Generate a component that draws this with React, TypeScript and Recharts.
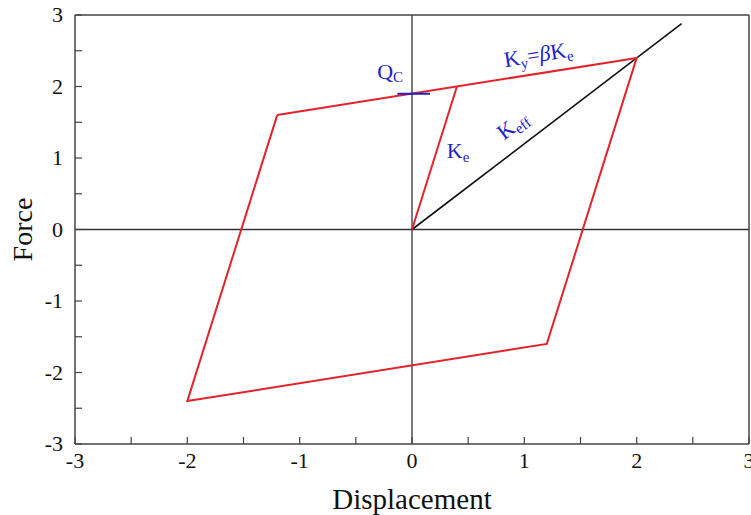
import React from 'react';
import { LineChart, Line, XAxis, YAxis, ReferenceLine, ReferenceDot } from 'recharts';

// Hysteresis loop (bilinear model)
const loopPoints = [
  { x: -1.2, y: 1.6 },
  { x: 2.0, y: 2.4 },
  { x: 1.2, y: -1.6 },
  { x: -2.0, y: -2.4 },
  { x: -1.2, y: 1.6 },
];
// Initial elastic loading branch (Ke)
const elasticPoints = [
  { x: 0, y: 0 },
  { x: 0.4, y: 2.0 },
];
// Effective stiffness line (Keff)
const effPoints = [
  { x: 0, y: 0 },
  { x: 2.4, y: 2.88 },
];
// Characteristic strength marker Qc
const qcSegment = [
  { x: -0.13, y: 1.9 },
  { x: 0.16, y: 1.9 },
];

const xTicks = [-3, -2.5, -2, -1.5, -1, -0.5, 0, 0.5, 1, 1.5, 2, 2.5, 3];
const yTicks = [-3, -2.5, -2, -1.5, -1, -0.5, 0, 0.5, 1, 1.5, 2, 2.5, 3];

const FONT = '"Liberation Serif", "Times New Roman", serif';
const FRAME = '#444';
const RED = '#e3232b';
const BLUE = '#2222c4';
const TL = 7;

const isInt = (v: number) => Math.abs(v - Math.round(v)) < 1e-9;

const BottomTick = (p: any) => {
  const { x, y, payload } = p;
  return (
    <g>
      <line x1={x} y1={y} x2={x} y2={y - TL} stroke={FRAME} strokeWidth={1.2} />
      {isInt(payload.value) && (
        <text x={x} y={y + 24} textAnchor="middle" fontFamily={FONT} fontSize={22} fill="#111">
          {payload.value}
        </text>
      )}
    </g>
  );
};
const TopTick = (p: any) => {
  const { x, y } = p;
  return <line x1={x} y1={y} x2={x} y2={y + TL} stroke={FRAME} strokeWidth={1.2} />;
};
const LeftTick = (p: any) => {
  const { x, y, payload } = p;
  return (
    <g>
      <line x1={x} y1={y} x2={x + TL} y2={y} stroke={FRAME} strokeWidth={1.2} />
      {isInt(payload.value) && (
        <text x={x - 12} y={y + 7} textAnchor="end" fontFamily={FONT} fontSize={22} fill="#111">
          {payload.value}
        </text>
      )}
    </g>
  );
};
const RightTick = (p: any) => {
  const { x, y } = p;
  return <line x1={x} y1={y} x2={x - TL} y2={y} stroke={FRAME} strokeWidth={1.2} />;
};

const lbl = (render: (cx: number, cy: number) => React.ReactNode) => (props: any) => {
  const vb = props.viewBox || {};
  return <g>{render(vb.x ?? 0, vb.y ?? 0)}</g>;
};

const AF = 22;
const SF = 15;

export default function App() {
  return (
    <div style={{ position: 'absolute', left: 0, top: 0, width: 751, height: 515, background: '#fff' }}>
      <LineChart width={751} height={515} margin={{ top: 14, right: 1, left: 0, bottom: 0 }}>
        <XAxis
          dataKey="x"
          type="number"
          domain={[-3, 3]}
          ticks={xTicks}
          interval={0}
          allowDataOverflow
          height={71}
          stroke={FRAME}
          axisLine={{ stroke: FRAME, strokeWidth: 1.5 }}
          tickLine={false}
          tickSize={0}
          tickMargin={0}
          tick={BottomTick}
          label={{ value: 'Displacement', position: 'insideBottom', offset: 6, style: { fontFamily: FONT, fontSize: 29, fill: '#111' } }}
        />
        <XAxis
          xAxisId="top"
          orientation="top"
          dataKey="x"
          type="number"
          domain={[-3, 3]}
          ticks={xTicks}
          interval={0}
          height={1}
          axisLine={{ stroke: FRAME, strokeWidth: 1.5 }}
          tickLine={false}
          tickSize={0}
          tickMargin={0}
          tick={TopTick}
        />
        <YAxis
          type="number"
          domain={[-3, 3]}
          ticks={yTicks}
          interval={0}
          allowDataOverflow
          width={75}
          axisLine={{ stroke: FRAME, strokeWidth: 1.5 }}
          tickLine={false}
          tickSize={0}
          tickMargin={0}
          tick={LeftTick}
          label={{ value: 'Force', angle: -90, position: 'insideLeft', offset: 22, style: { fontFamily: FONT, fontSize: 28, fill: '#111', textAnchor: 'middle' } }}
        />
        <YAxis
          yAxisId="right"
          orientation="right"
          type="number"
          domain={[-3, 3]}
          ticks={yTicks}
          interval={0}
          width={1}
          axisLine={{ stroke: FRAME, strokeWidth: 1.5 }}
          tickLine={false}
          tickSize={0}
          tickMargin={0}
          tick={RightTick}
        />
        <ReferenceLine x={0} stroke="#333" strokeWidth={1.3} />
        <ReferenceLine y={0} stroke="#333" strokeWidth={1.3} />
        <Line data={effPoints} dataKey="y" stroke="#111" strokeWidth={1.6} dot={false} isAnimationActive={false} />
        <Line data={loopPoints} dataKey="y" stroke={RED} strokeWidth={2} dot={false} isAnimationActive={false} />
        <Line data={elasticPoints} dataKey="y" stroke={RED} strokeWidth={2} dot={false} isAnimationActive={false} />
        <ReferenceLine segment={qcSegment} stroke={BLUE} strokeWidth={2} />
        <ReferenceDot
          x={-0.31}
          y={2.1}
          r={0}
          stroke="none"
          label={lbl((cx, cy) => (
            <text x={cx} y={cy} fontFamily={FONT} fontSize={AF} fill={BLUE}>
              Q<tspan fontSize={SF} dy={3}>C</tspan>
            </text>
          ))}
        />
        <ReferenceDot
          x={0.31}
          y={1.0}
          r={0}
          stroke="none"
          label={lbl((cx, cy) => (
            <text x={cx} y={cy} fontFamily={FONT} fontSize={AF} fill={BLUE}>
              K<tspan fontSize={SF} dy={4}>e</tspan>
            </text>
          ))}
        />
        <ReferenceDot
          x={0.83}
          y={2.27}
          r={0}
          stroke="none"
          label={lbl((cx, cy) => (
            <text x={cx} y={cy} fontFamily={FONT} fontSize={AF} fill={BLUE} transform={`rotate(-9 ${cx} ${cy})`}>
              K<tspan fontSize={SF} dy={4}>y</tspan>
              <tspan dy={-4}>=</tspan>
              <tspan fontStyle="italic">β</tspan>K<tspan fontSize={SF} dy={4}>e</tspan>
            </text>
          ))}
        />
        <ReferenceDot
          x={0.82}
          y={1.24}
          r={0}
          stroke="none"
          label={lbl((cx, cy) => (
            <text x={cx} y={cy} fontFamily={FONT} fontSize={AF} fill={BLUE} transform={`rotate(-37 ${cx} ${cy})`}>
              K<tspan fontSize={SF} dy={4}>eff</tspan>
            </text>
          ))}
        />
      </LineChart>
    </div>
  );
}
